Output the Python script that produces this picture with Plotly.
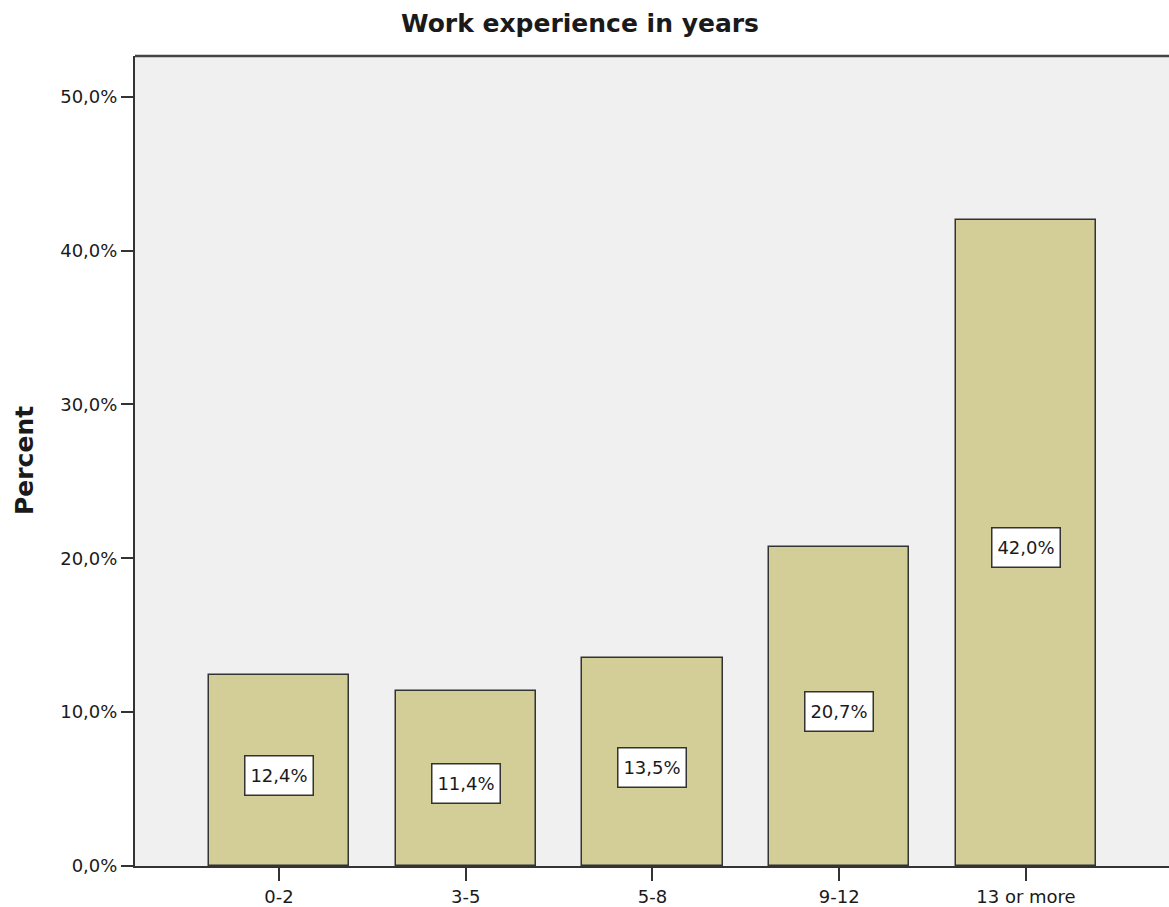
import plotly.graph_objects as go

# Work experience distribution (percent of respondents)
categories = ["0-2", "3-5", "5-8", "9-12", "13 or more"]
percent = [12.4, 11.4, 13.5, 20.7, 42.0]
y_ticks = [0, 10, 20, 30, 40, 50]
y_tick_labels = ["0,0%", "10,0%", "20,0%", "30,0%", "40,0%", "50,0%"]

BAR_FILL = "#D3CE97"
EDGE = "#333333"
TEXT = "#1a1a1a"

WIDTH, HEIGHT = 1169, 907
M_LEFT, M_RIGHT, M_TOP, M_BOTTOM = 135, 0, 56, 41
PLOT_W = WIDTH - M_LEFT - M_RIGHT

x_idx = list(range(len(categories)))

fig = go.Figure()
fig.add_trace(go.Bar(
    x=x_idx,
    y=percent,
    width=0.752,
    marker=dict(color=BAR_FILL, line=dict(color=EDGE, width=1.5)),
    hoverinfo="skip",
    showlegend=False,
))

# Boxed value labels in the middle of each bar
for i, v in zip(x_idx, percent):
    fig.add_annotation(
        x=i, y=v / 2, xref="x", yref="y",
        text=f"{v:.1f}".replace(".", ",") + "%",
        showarrow=False,
        font=dict(family="DejaVu Sans", size=18, color=TEXT),
        bgcolor="white",
        bordercolor=EDGE,
        borderwidth=1.5,
        borderpad=2,
        width=63,
        height=34,
        yshift=-5,
    )

# Y-axis title near the left edge of the figure
fig.add_annotation(
    x=(24 - M_LEFT) / PLOT_W, xref="paper", y=0.5, yref="paper",
    xanchor="center", yanchor="middle",
    text="<b>Percent</b>", textangle=-90, showarrow=False,
    font=dict(family="DejaVu Sans", size=25, color=TEXT),
)

# Top frame line of the plot area
fig.add_shape(type="line", xref="paper", yref="paper",
              x0=0, x1=1, y0=1, y1=1,
              line=dict(color="#444444", width=2.5))

fig.update_layout(
    width=WIDTH, height=HEIGHT,
    margin=dict(l=M_LEFT, r=M_RIGHT, t=M_TOP, b=M_BOTTOM),
    paper_bgcolor="white",
    plot_bgcolor="#F0F0F0",
    title=dict(
        text="<b>Work experience in years</b>",
        x=580 / WIDTH, xref="container", xanchor="center",
        y=1 - 23 / HEIGHT, yref="container", yanchor="middle",
        font=dict(family="DejaVu Sans", size=25, color=TEXT),
    ),
    xaxis=dict(
        range=[-0.771, 4.766],
        tickmode="array", tickvals=x_idx, ticktext=categories,
        showgrid=False, zeroline=False,
        showline=True, linecolor=EDGE, linewidth=2,
        ticks="outside", ticklen=13, tickwidth=2, tickcolor=EDGE,
        tickfont=dict(family="DejaVu Sans", size=18, color=TEXT),
        fixedrange=True,
    ),
    yaxis=dict(
        range=[0, 52.64],
        tickmode="array", tickvals=y_ticks, ticktext=y_tick_labels,
        showgrid=False, zeroline=False,
        showline=True, linecolor=EDGE, linewidth=2,
        ticks="outside", ticklen=12, tickwidth=2, tickcolor=EDGE,
        tickfont=dict(family="DejaVu Sans", size=18, color=TEXT),
        fixedrange=True,
    ),
    bargap=0,
)

fig.write_html("out.html")
